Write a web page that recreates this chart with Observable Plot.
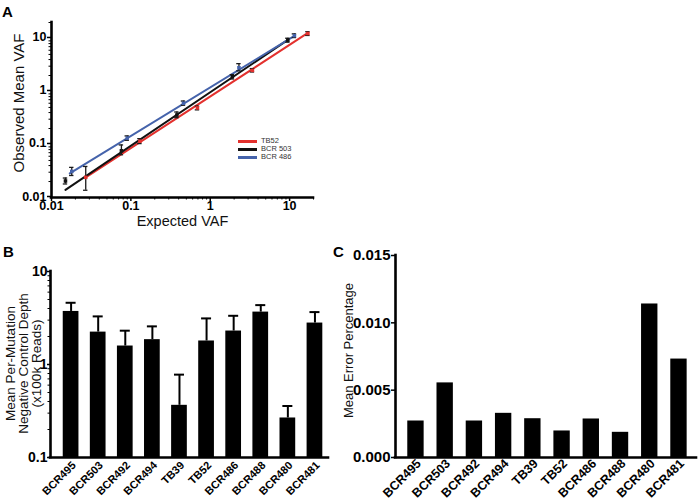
<!DOCTYPE html>
<html><head><meta charset="utf-8">
<script src="https://cdn.jsdelivr.net/npm/d3@7"></script>
<script src="https://cdn.jsdelivr.net/npm/@observablehq/plot@0.6"></script>
<style>
html,body{margin:0;padding:0;background:#fff;}
body{font-family:"Liberation Sans",Arial,Helvetica,sans-serif;}
#wrap{position:relative;width:700px;height:500px;overflow:hidden;background:#fff;}
.plabel{position:absolute;font-weight:bold;font-size:15px;line-height:15px;}
.leg{position:absolute;font-size:7.5px;line-height:8px;color:#333;white-space:nowrap;}
.leg span.sw{position:absolute;left:0;top:3px;width:19px;height:2.5px;}
.leg span.tx{position:absolute;left:23px;top:0;}
svg [aria-label$="tick label"] text{font-weight:bold;}
</style>
</head><body>
<div id="wrap"></div>
<script>
// ---------- Panel A data ----------
const seriesA = ["TB52", "BCR 503", "BCR 486"];
const expTB52   = [0.027, 0.13, 0.69, 3.4, 17];
const obsTB52   = [0.024, 0.115, 0.49, 2.5, 12.4];
const loTB52    = [0.0137, 0.104, 0.45, 2.33, 11.4];
const hiTB52    = [0.0385, 0.129, 0.53, 2.7, 13.4];
const expBCR503 = [0.015, 0.076, 0.38, 1.9, 9.5];
const obsBCR503 = [0.0205, 0.076, 0.36, 1.9, 9.3];
const loBCR503  = [0.018, 0.064, 0.32, 1.72, 8.5];
const hiBCR503  = [0.0233, 0.098, 0.41, 2.08, 10.1];
const expBCR486 = [0.018, 0.09, 0.46, 2.3, 11.5];
const obsBCR486 = [0.031, 0.132, 0.6, 2.8, 11.3];
const loBCR486  = [0.026, 0.12, 0.55, 2.45, 10.4];
const hiBCR486  = [0.037, 0.145, 0.66, 3.35, 12.2];
// fitted regression lines (start / end)
const fitXTB52   = [0.027, 17];   const fitYTB52   = [0.0239, 12.7];
const fitXBCR503 = [0.015, 9.5];  const fitYBCR503 = [0.0139, 9.4];
const fitXBCR486 = [0.017, 11.5]; const fitYBCR486 = [0.0284, 11.2];
const xTicksA = [0.01, 0.1, 1, 10];
const yTicksA = [0.01, 0.1, 1, 10];

// ---------- Panel B data ----------
const samples = ["BCR495","BCR503","BCR492","BCR494","TB39","TB52","BCR486","BCR488","BCR480","BCR481"];
const depthMean = [3.72, 2.23, 1.58, 1.85, 0.364, 1.79, 2.29, 3.66, 0.266, 2.79];
const depthUpper = [4.61, 3.29, 2.31, 2.57, 0.778, 3.13, 3.34, 4.35, 0.358, 3.66];
const yTicksB = [0.1, 1, 10];

// ---------- Panel C data ----------
const errorPct = [0.00271, 0.00554, 0.00271, 0.00328, 0.00288, 0.00197, 0.00286, 0.00187, 0.0114, 0.00731];
const yTicksC = [0.000, 0.005, 0.010, 0.015];

// ---------- helpers ----------
const FONT = '"Liberation Sans", Arial, Helvetica, sans-serif';
const wrap = document.getElementById("wrap");
function place(el, left, top) {
  el.style.position = "absolute"; el.style.left = left + "px"; el.style.top = top + "px";
  wrap.appendChild(el);
}
function minorTicks(majors, max) {
  const out = [];
  for (const m of majors) for (let k = 2; k <= 9; k++) { const v = m * k; if (v <= max * 1.0001) out.push(v); }
  return out;
}
const fmtLog = d => d3.format("~g")(d);
const titleOpts = {text: d => d, frameAnchor: "left", textAnchor: "middle", lineAnchor: "middle", rotate: -90, fill: "#111"};

// ---------- Panel A ----------
const colorA = {domain: seriesA, range: ["#e3312e", "#111111", "#4563ab"]};
const seriesTables = [
  [seriesA[0], expTB52, obsTB52, loTB52, hiTB52, fitXTB52, fitYTB52],
  [seriesA[1], expBCR503, obsBCR503, loBCR503, hiBCR503, fitXBCR503, fitYBCR503],
  [seriesA[2], expBCR486, obsBCR486, loBCR486, hiBCR486, fitXBCR486, fitYBCR486]
];
const ptsA = [], fitA = [];
for (const [s, ex, ob, lo, hi, fx, fy] of seriesTables) {
  ex.forEach((x, i) => ptsA.push({series: s, x, y: ob[i], lo: lo[i], hi: hi[i]}));
  fx.forEach((x, i) => fitA.push({series: s, x, y: fy[i]}));
}
const domA = [0.01, 20];
const plotA = Plot.plot({
  width: 340, height: 240,
  marginLeft: 51, marginRight: 27, marginTop: 22, marginBottom: 43,
  style: {fontFamily: FONT, background: "transparent", color: "#000", overflow: "visible"},
  x: {type: "log", domain: domA},
  y: {type: "log", domain: domA},
  color: colorA,
  marks: [
    Plot.line(fitA, {x: "x", y: "y", z: "series", stroke: "series", strokeWidth: 2}),
    Plot.ruleX(ptsA, {x: "x", y1: "lo", y2: "hi", stroke: "#1a1a1a", strokeWidth: 1.3}),
    Plot.ruleY(ptsA, {y: "lo", x1: "x", x2: "x", insetLeft: -2.2, insetRight: -2.2, stroke: "#1a1a1a", strokeWidth: 1.3}),
    Plot.ruleY(ptsA, {y: "hi", x1: "x", x2: "x", insetLeft: -2.2, insetRight: -2.2, stroke: "#1a1a1a", strokeWidth: 1.3}),
    Plot.dot(ptsA, {x: "x", y: "y", fill: "series", symbol: "square", r: 2}),
    Plot.ruleX([domA[0]], {stroke: "#000", strokeWidth: 2.6, strokeLinecap: "square"}),
    Plot.ruleY([domA[0]], {stroke: "#000", strokeWidth: 2.6, strokeLinecap: "square"}),
    Plot.axisX({ticks: xTicksA, tickFormat: fmtLog, tickSize: 4, tickPadding: 0, strokeWidth: 1.5, fontSize: 12.5, fontWeight: "bold", label: null}),
    Plot.axisX({ticks: minorTicks(xTicksA, domA[1]), tickFormat: () => "", tickSize: 2.5, strokeWidth: 1, label: null}),
    Plot.axisY({ticks: yTicksA, tickFormat: fmtLog, tickSize: 4, tickPadding: 1, dy: -1, strokeWidth: 1.5, fontSize: 12.5, fontWeight: "bold", label: null}),
    Plot.axisY({ticks: minorTicks(yTicksA, domA[1]), tickFormat: () => "", tickSize: 2.5, strokeWidth: 1, label: null}),
    Plot.text(["Observed Mean VAF"], {...titleOpts, dx: -32, dy: -7, fontSize: 15}),
    Plot.text(["Expected VAF"], {text: d => d, frameAnchor: "bottom", dy: 28, fontSize: 14.5, fill: "#111"})
  ]
});
place(plotA, 0, 0);

// legend for A
seriesA.forEach((s, i) => {
  const d = document.createElement("div"); d.className = "leg";
  d.style.width = "60px"; d.style.height = "8px";
  const sw = document.createElement("span"); sw.className = "sw"; sw.style.background = colorA.range[i];
  const tx = document.createElement("span"); tx.className = "tx"; tx.textContent = s;
  d.appendChild(sw); d.appendChild(tx);
  place(d, 238, 137 + i * 8);
});

// ---------- Panel B ----------
const rowsB = samples.map((s, i) => ({i, s, v: depthMean[i], hi: depthUpper[i]}));
const domBy = [0.1, 10];
const domBx = [-0.76, 9.5];
const plotB = Plot.plot({
  width: 340, height: 250,
  marginLeft: 50, marginRight: 12, marginTop: 21, marginBottom: 43,
  style: {fontFamily: FONT, background: "transparent", color: "#000", overflow: "visible"},
  x: {type: "linear", domain: domBx},
  y: {type: "log", domain: domBy},
  marks: [
    Plot.ruleX(rowsB, {x: "i", y1: "v", y2: "hi", stroke: "#000", strokeWidth: 2}),
    Plot.ruleY(rowsB, {y: "hi", x1: "i", x2: "i", insetLeft: -5, insetRight: -5, stroke: "#000", strokeWidth: 2}),
    Plot.rect(rowsB, {x1: d => d.i - 0.29, x2: d => d.i + 0.29, y1: () => domBy[0], y2: "v", fill: "#000"}),
    Plot.ruleX([domBx[0]], {stroke: "#000", strokeWidth: 2.6, strokeLinecap: "square"}),
    Plot.ruleY([domBy[0]], {stroke: "#000", strokeWidth: 2.6, strokeLinecap: "square"}),
    Plot.axisX({ticks: d3.range(samples.length), tickFormat: i => samples[i], tickRotate: -45, tickSize: 0, tickPadding: 6, dx: 3, fontSize: 11, fontWeight: "bold", label: null}),
    Plot.axisY({ticks: yTicksB, tickFormat: fmtLog, tickSize: 3, tickPadding: 0, strokeWidth: 1.5, fontSize: 14, fontWeight: "bold", label: null}),
    Plot.axisY({ticks: minorTicks(yTicksB.slice(0, -1), domBy[1]), tickFormat: () => "", tickSize: 2.5, strokeWidth: 1, label: null}),
    Plot.text(["Mean Per-Mutation"], {...titleOpts, dx: -40, dy: -1, fontSize: 13.5}),
    Plot.text(["Negative Control Depth"], {...titleOpts, dx: -27, dy: -1, fontSize: 13.5}),
    Plot.text(["(x100k Reads)"], {...titleOpts, dx: -14, dy: -1, fontSize: 13.5})
  ]
});
place(plotB, 0, 250);

// ---------- Panel C ----------
const rowsC = samples.map((s, i) => ({i, s, v: errorPct[i]}));
const domCy = [0, 0.015];
const domCx = [-0.7, 9.6];
const plotC = Plot.plot({
  width: 360, height: 250,
  marginLeft: 55, marginRight: 4, marginTop: 5, marginBottom: 43,
  style: {fontFamily: FONT, background: "transparent", color: "#000", overflow: "visible"},
  x: {type: "linear", domain: domCx},
  y: {type: "linear", domain: domCy},
  marks: [
    Plot.rect(rowsC, {x1: d => d.i - 0.28, x2: d => d.i + 0.28, y1: () => domCy[0], y2: "v", fill: "#000"}),
    Plot.ruleX([domCx[0]], {stroke: "#000", strokeWidth: 2.6, strokeLinecap: "square"}),
    Plot.ruleY([domCy[0]], {stroke: "#000", strokeWidth: 2.6, strokeLinecap: "square"}),
    Plot.axisX({ticks: d3.range(samples.length), tickFormat: i => samples[i], tickRotate: -45, tickSize: 0, tickPadding: 4, dx: 3, fontSize: 12.5, fontWeight: "bold", label: null}),
    Plot.axisY({ticks: yTicksC, tickFormat: d3.format(".3f"), tickSize: 4, tickPadding: 1, strokeWidth: 1.5, fontSize: 15, fontWeight: "bold", label: null}),
    Plot.text(["Mean Error Percentage"], {...titleOpts, dx: -47, dy: -6, fontSize: 13})
  ]
});
place(plotC, 340, 250);

// ---------- panel letters ----------
[["A", 2, 4], ["B", 3, 244], ["C", 333, 244]].forEach(([t, l, tp]) => {
  const d = document.createElement("div"); d.className = "plabel"; d.textContent = t; place(d, l, tp);
});
</script>
</body></html>
